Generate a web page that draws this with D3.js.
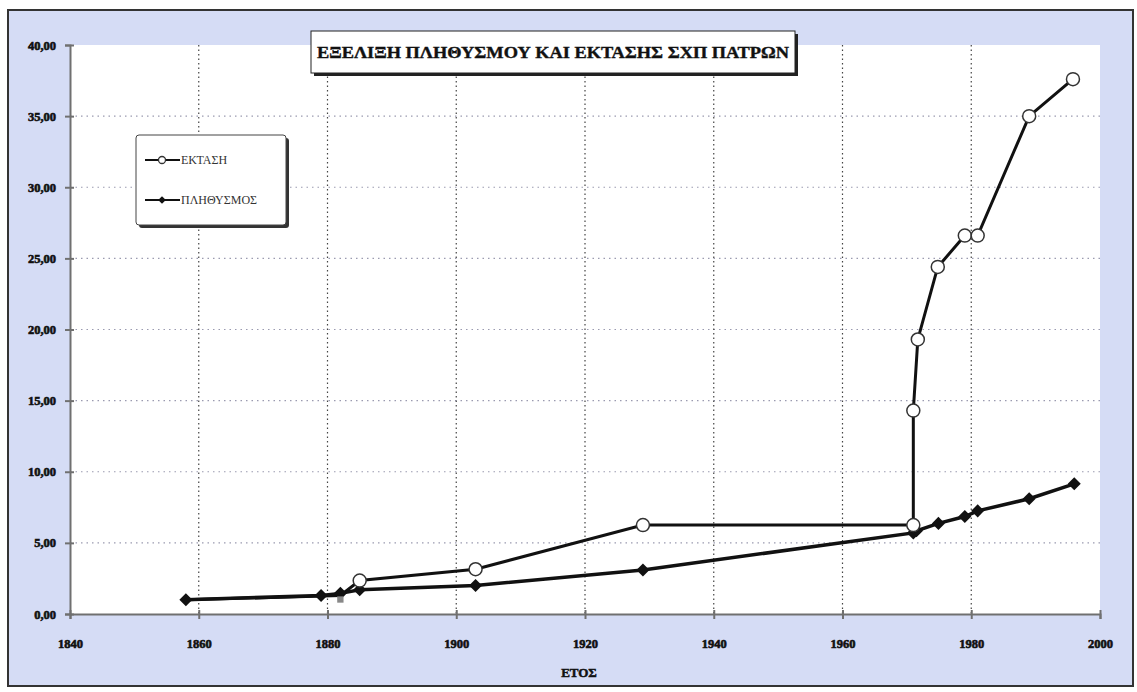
<!DOCTYPE html>
<html><head><meta charset="utf-8">
<script src="https://cdn.jsdelivr.net/npm/d3@7"></script>
<style>html,body{margin:0;padding:0;background:#fff;}svg{display:block;}</style>
</head><body>
<svg id="c" width="1137" height="692"></svg>
<script>
const title = "ΕΞΕΛΙΞΗ ΠΛΗΘΥΣΜΟΥ ΚΑΙ ΕΚΤΑΣΗΣ ΣΧΠ ΠΑΤΡΩΝ";
const xTitle = "ΕΤΟΣ";
const seriesNames = ["ΕΚΤΑΣΗ", "ΠΛΗΘΥΣΜΟΣ"];
const areaYears = [1858, 1882, 1885, 1903, 1929, 1971, 1971, 1971.7, 1974.8, 1979, 1981, 1989, 1995.8];
const areaValues = [1.00, 1.30, 2.35, 3.15, 6.25, 6.25, 14.3, 19.3, 24.4, 26.6, 26.6, 35.0, 37.6];
const popYears = [1858, 1879, 1882, 1885, 1903, 1929, 1971, 1971.5, 1974.9, 1979, 1981, 1989, 1996];
const popValues = [1.00, 1.30, 1.45, 1.70, 2.00, 3.10, 5.70, 5.85, 6.37, 6.85, 7.25, 8.10, 9.15];
const xTicks = [1840, 1860, 1880, 1900, 1920, 1940, 1960, 1980, 2000];
const yTicks = [0, 5, 10, 15, 20, 25, 30, 35, 40];

const svg = d3.select("#c");
const W = 1137, H = 692;
const L = 70, R = 1100, T = 45, B = 614;
const x = d3.scaleLinear().domain([1840, 2000]).range([L, R]);
const y = d3.scaleLinear().domain([0, 40]).range([B, T]);
const serif = "'Liberation Serif','DejaVu Serif',serif";

// background + frame
svg.append("rect").attr("x", 0).attr("y", 0).attr("width", W).attr("height", H).attr("fill", "#ffffff");
svg.append("rect").attr("x", 8).attr("y", 10).attr("width", 1125).attr("height", 676)
  .attr("fill", "#d5dcf5").attr("stroke", "#333").attr("stroke-width", 2);
// plot area
svg.append("rect").attr("x", L).attr("y", T).attr("width", R - L).attr("height", B - T).attr("fill", "#ffffff");

// gridlines
svg.append("g").selectAll("line").data(yTicks.filter(d => d > 0 && d < 40)).join("line")
  .attr("x1", L).attr("x2", R).attr("y1", d => y(d)).attr("y2", d => y(d))
  .attr("stroke", "#9a9ab0").attr("stroke-width", 1.2).attr("stroke-dasharray", "1.5,4");
svg.append("g").selectAll("line").data(xTicks.filter(d => d > 1840 && d < 2000)).join("line")
  .attr("y1", T).attr("y2", B).attr("x1", d => x(d)).attr("x2", d => x(d))
  .attr("stroke", "#444").attr("stroke-width", 1.2).attr("stroke-dasharray", "1.5,3");

// axes
const fmt = d => d3.format(".2f")(d).replace(".", ",");
const yAxis = svg.append("g").attr("transform", `translate(${L},0)`)
  .call(d3.axisLeft(y).tickValues(yTicks).tickSize(5).tickFormat(fmt).tickPadding(9));
const xAxis = svg.append("g").attr("transform", `translate(0,${B})`)
  .call(d3.axisBottom(x).tickValues(xTicks).tickSize(5).tickFormat(d3.format("d")).tickPadding(20));
[yAxis, xAxis].forEach(g => {
  g.select(".domain").attr("stroke", "#707070").attr("stroke-width", 2);
  g.selectAll(".tick line").attr("stroke", "#707070").attr("stroke-width", 2);
  g.selectAll(".tick text").attr("font-family", serif).attr("font-weight", "bold")
    .attr("font-size", 12.5).attr("fill", "#111").attr("stroke", "#111").attr("stroke-width", 0.6);
});
yAxis.selectAll(".tick line").attr("x2", 4).attr("x1", -5);
xAxis.selectAll(".tick line").attr("y1", -4).attr("y2", 5);

// x-axis title
svg.append("text").attr("x", 579).attr("y", 677).attr("text-anchor", "middle")
  .attr("font-family", serif).attr("font-weight", "bold").attr("font-size", 13).attr("fill", "#111")
  .attr("stroke", "#111").attr("stroke-width", 0.5).text(xTitle);

// data lines
const line = d3.line().x(d => x(d[0])).y(d => y(d[1]));
const area = areaYears.map((yr, i) => [yr, areaValues[i]]);
const pop = popYears.map((yr, i) => [yr, popValues[i]]);
svg.append("path").datum(area).attr("d", line).attr("fill", "none").attr("stroke", "#111").attr("stroke-width", 3);
svg.append("path").datum(pop).attr("d", line).attr("fill", "none").attr("stroke", "#111").attr("stroke-width", 3.5);

const diamond = d3.symbol().type(d3.symbolSquare).size(85);
svg.append("g").selectAll("path").data(pop).join("path")
  .attr("transform", d => `translate(${x(d[0])},${y(d[1])}) rotate(45)`).attr("d", diamond).attr("fill", "#111");
svg.append("g").selectAll("path").data(area.filter((d, i) => i === 1)).join("path")
  .attr("transform", d => `translate(${x(d[0])},${y(d[1]) + 4})`)
  .attr("d", d3.symbol().type(d3.symbolSquare).size(40)).attr("fill", "#888");
svg.append("g").selectAll("circle").data(area.filter((d, i) => i > 1)).join("circle")
  .attr("cx", d => x(d[0])).attr("cy", d => y(d[1])).attr("r", 6.5)
  .attr("fill", "#fff").attr("stroke", "#333").attr("stroke-width", 1.5);

// title box
const tb = svg.append("g");
tb.append("rect").attr("x", 314).attr("y", 34).attr("width", 484).attr("height", 42).attr("fill", "#222");
tb.append("rect").attr("x", 311).attr("y", 31).attr("width", 484).attr("height", 42)
  .attr("fill", "#fff").attr("stroke", "#222").attr("stroke-width", 1);
tb.append("text").attr("x", 553).attr("y", 58).attr("text-anchor", "middle")
  .attr("font-family", serif).attr("font-weight", "bold").attr("font-size", 17).attr("fill", "#111")
  .attr("stroke", "#111").attr("stroke-width", 0.4)
  .attr("textLength", 472).attr("lengthAdjust", "spacingAndGlyphs").text(title);

// legend
const lg = svg.append("g");
lg.append("rect").attr("x", 139).attr("y", 138).attr("width", 150).attr("height", 90).attr("rx", 3).attr("fill", "#333");
lg.append("rect").attr("x", 136).attr("y", 135).attr("width", 150).attr("height", 90).attr("rx", 3)
  .attr("fill", "#fff").attr("stroke", "#444").attr("stroke-width", 1);
const ly = [160, 200];
seriesNames.forEach((name, i) => {
  lg.append("line").attr("x1", 145).attr("x2", 180).attr("y1", ly[i]).attr("y2", ly[i])
    .attr("stroke", "#111").attr("stroke-width", 2);
  if (i === 0) lg.append("circle").attr("cx", 162).attr("cy", ly[i]).attr("r", 3.5)
    .attr("fill", "#fff").attr("stroke", "#333").attr("stroke-width", 1.3);
  else lg.append("path").attr("transform", `translate(162,${ly[i]}) rotate(45)`)
    .attr("d", d3.symbol().type(d3.symbolSquare).size(30)).attr("fill", "#111");
  lg.append("text").attr("x", 181).attr("y", ly[i] + 4).attr("font-family", serif)
    .attr("font-size", 12).attr("fill", "#333").text(name);
});
</script>
</body></html>
